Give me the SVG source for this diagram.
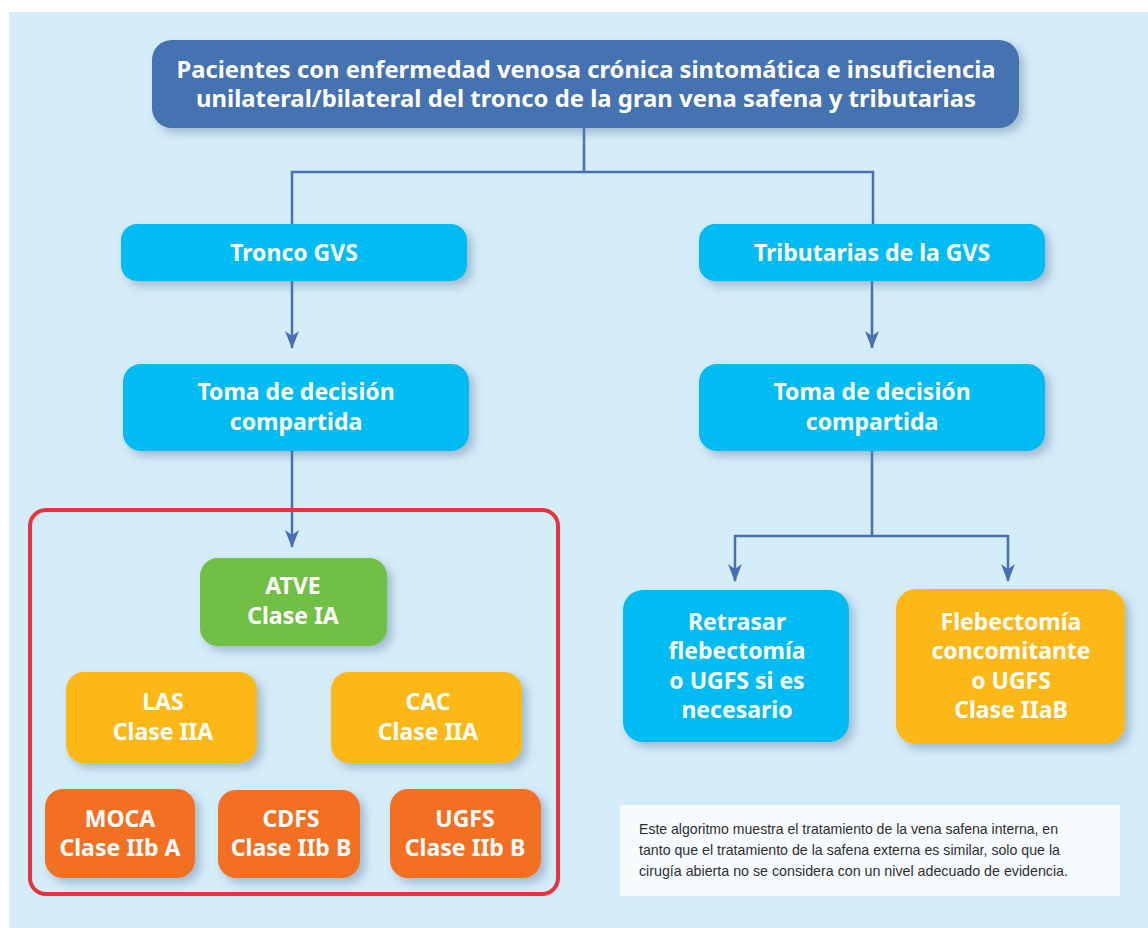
<svg xmlns="http://www.w3.org/2000/svg" width="1148" height="928" viewBox="0 0 1148 928">
<defs>
<filter id="sh" x="-10%" y="-10%" width="130%" height="140%">
<feDropShadow dx="5" dy="5" stdDeviation="5" flood-color="#5a7f99" flood-opacity="0.45"/>
</filter>
<marker id="ah" viewBox="0 0 18 14" refX="17" refY="7" markerWidth="18" markerHeight="14" markerUnits="userSpaceOnUse" orient="auto">
<path d="M0,0 L5,7 L0,14 L18,7 Z" fill="#4770b3"/>
</marker>
<style>
.t{font-family:"Noto Sans","Open Sans","Liberation Sans",sans-serif;font-weight:700;fill:#fff;text-anchor:middle;font-size:23px;}
.c{fill:none;stroke:#4770b3;stroke-width:2.5;}
.note{font-family:"Liberation Sans Narrow","Liberation Sans",sans-serif;font-size:15px;fill:#2e2e2e;}
</style>
</defs>
<rect x="0" y="0" width="1148" height="928" fill="#ffffff"/>
<rect x="9" y="12" width="1139" height="916" fill="#d5ecf9"/>

<g id="connectors">
<path class="c" d="M584,128 V172 M292,226 V172 H873 V226"/>
<path class="c" d="M292,281 V348" marker-end="url(#ah)"/>
<path class="c" d="M872,281 V348" marker-end="url(#ah)"/>
<path class="c" d="M292,451 V547" marker-end="url(#ah)"/>
<path class="c" d="M872,451 V536 M735,536 H1008"/>
<path class="c" d="M735,535 V581" marker-end="url(#ah)"/>
<path class="c" d="M1008,535 V581" marker-end="url(#ah)"/>
</g>

<g id="group-box">
<rect x="30" y="510" width="528" height="384" rx="16" fill="none" stroke="#e8323c" stroke-width="4"/>
</g>

<g id="n-top">
<rect x="152" y="40" width="867" height="88" rx="20" fill="#4472b0" filter="url(#sh)"/>
<text class="t" x="586" y="78" textLength="819" lengthAdjust="spacingAndGlyphs">Pacientes con enfermedad venosa crónica sintomática e insuficiencia</text>
<text class="t" x="586" y="107" textLength="780" lengthAdjust="spacingAndGlyphs">unilateral/bilateral del tronco de la gran vena safena y tributarias</text>
</g>

<g id="n-tronco">
<rect x="121" y="224" width="346" height="57" rx="16" fill="#00bcf2" filter="url(#sh)"/>
<text class="t" x="294" y="261">Tronco GVS</text>
</g>

<g id="n-trib">
<rect x="699" y="224" width="346" height="57" rx="16" fill="#00bcf2" filter="url(#sh)"/>
<text class="t" x="872" y="261">Tributarias de la GVS</text>
</g>

<g id="n-toma1">
<rect x="123" y="364" width="346" height="87" rx="18" fill="#00bcf2" filter="url(#sh)"/>
<text class="t" x="296" y="400">Toma de decisión</text>
<text class="t" x="296" y="430">compartida</text>
</g>

<g id="n-toma2">
<rect x="699" y="364" width="346" height="87" rx="18" fill="#00bcf2" filter="url(#sh)"/>
<text class="t" x="872" y="400">Toma de decisión</text>
<text class="t" x="872" y="430">compartida</text>
</g>

<g id="n-atve">
<rect x="200" y="558" width="187" height="88" rx="18" fill="#72bf44" filter="url(#sh)"/>
<text class="t" x="293" y="594">ATVE</text>
<text class="t" x="293" y="624">Clase IA</text>
</g>

<g id="n-las">
<rect x="66" y="672" width="191" height="91" rx="18" fill="#fbb817" filter="url(#sh)"/>
<text class="t" x="163" y="710">LAS</text>
<text class="t" x="163" y="740">Clase IIA</text>
</g>

<g id="n-cac">
<rect x="331" y="672" width="191" height="91" rx="18" fill="#fbb817" filter="url(#sh)"/>
<text class="t" x="428" y="710">CAC</text>
<text class="t" x="428" y="740">Clase IIA</text>
</g>

<g id="n-moca">
<rect x="45" y="789" width="150" height="89" rx="18" fill="#f37022" filter="url(#sh)"/>
<text class="t" x="120" y="827">MOCA</text>
<text class="t" x="120" y="856">Clase IIb A</text>
</g>

<g id="n-cdfs">
<rect x="218" y="790" width="142" height="88" rx="18" fill="#f37022" filter="url(#sh)"/>
<text class="t" x="291" y="827">CDFS</text>
<text class="t" x="291" y="856">Clase IIb B</text>
</g>

<g id="n-ugfs">
<rect x="390" y="789" width="151" height="89" rx="18" fill="#f37022" filter="url(#sh)"/>
<text class="t" x="465" y="827">UGFS</text>
<text class="t" x="465" y="856">Clase IIb B</text>
</g>

<g id="n-retrasar">
<rect x="623" y="590" width="226" height="152" rx="20" fill="#00bcf2" filter="url(#sh)"/>
<text class="t" x="737" y="630">Retrasar</text>
<text class="t" x="737" y="659">flebectomía</text>
<text class="t" x="737" y="689">o UGFS si es</text>
<text class="t" x="737" y="718">necesario</text>
</g>

<g id="n-flebec">
<rect x="896" y="589" width="229" height="155" rx="20" fill="#fbb817" filter="url(#sh)"/>
<text class="t" x="1011" y="630">Flebectomía</text>
<text class="t" x="1011" y="659">concomitante</text>
<text class="t" x="1011" y="689">o UGFS</text>
<text class="t" x="1011" y="718">Clase IIaB</text>
</g>

<g id="note">
<rect x="620" y="805" width="500" height="91" fill="#f7fbfe"/>
<text class="note" x="639" y="834" textLength="419" lengthAdjust="spacingAndGlyphs">Este algoritmo muestra el tratamiento de la vena safena interna, en</text>
<text class="note" x="639" y="855" textLength="421" lengthAdjust="spacingAndGlyphs">tanto que el tratamiento de la safena externa es similar, solo que la</text>
<text class="note" x="639" y="876" textLength="429" lengthAdjust="spacingAndGlyphs">cirugía abierta no se considera con un nivel adecuado de evidencia.</text>
</g>
</svg>
